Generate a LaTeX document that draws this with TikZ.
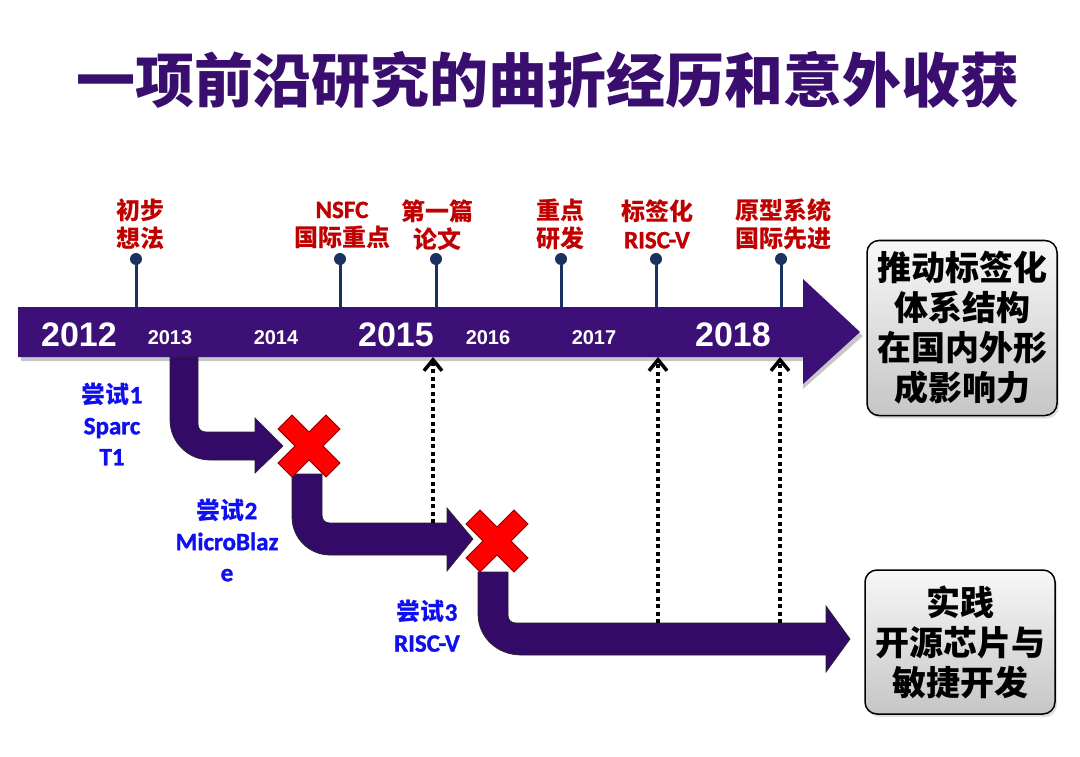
\documentclass[tikz,border=0pt]{standalone}
\usepackage{fontspec}
\newfontfamily\cjk{Noto Sans CJK SC}
\newfontfamily\lat{Carlito}[BoldFont={Carlito Bold}, BoldFeatures={FakeBold=1.3}]
\newfontfamily\arl{Liberation Sans}
\usetikzlibrary{arrows.meta,shadows}
\definecolor{tpurple}{RGB}{58,14,110}
\definecolor{barpurple}{RGB}{60,16,118}
\definecolor{arrpurple}{RGB}{52,10,104}
\definecolor{pinblue}{RGB}{25,50,95}
\definecolor{lblred}{RGB}{192,0,0}
\definecolor{lblblue}{RGB}{15,15,240}
\definecolor{xred}{RGB}{255,0,0}
\definecolor{xedge}{RGB}{140,0,0}
\begin{document}
\begin{tikzpicture}[x=1pt,y=-1pt,
  redlbl/.style={text=lblred, font=\cjk\bfseries\fontsize{24}{28}\selectfont, align=center, inner sep=0pt},
  bluelbl/.style={text=lblblue, font=\cjk\bfseries\fontsize{24}{31}\selectfont, align=center, inner sep=0pt},
  bigyear/.style={text=white, font=\arl\bfseries\fontsize{34}{34}\selectfont, inner sep=0pt},
  smallyear/.style={text=white, font=\arl\bfseries\fontsize{20}{20}\selectfont, inner sep=0pt},
  goalbox/.style={draw=black, line width=1.5pt, rounded corners=12pt, top color=gray!6, bottom color=gray!45,
    align=center, font=\cjk\bfseries\fontsize{34}{40}\selectfont, minimum width=190pt, inner sep=0pt,
    drop shadow={opacity=0.25, shadow xshift=2pt, shadow yshift=-3pt}},
  pinline/.style={draw=pinblue, line width=3pt},
  pindot/.style={circle, fill=pinblue, minimum size=12pt, inner sep=0pt},
  bentarrow/.style={fill=arrpurple, draw=black!85, line width=0.7pt, line join=miter},
  crossmark/.style={fill=xred, draw=xedge, line width=0.8pt, line join=miter},
  uparrow/.style={draw=black, line width=4pt, dash pattern=on 4pt off 3.5pt,
    -{Straight Barb[length=11pt,width=18pt,line width=3.5pt]}},
  titletext/.style={text=tpurple, font=\cjk\bfseries\fontsize{59}{59}\selectfont, inner sep=0pt}
]
\useasboundingbox (0,0) rectangle (1080,757);
\fill[white] (0,0) rectangle (1080,757);

% title
\node[titletext] (title) at (548,80) {一项前沿研究的曲折经历和意外收获};

% main timeline arrow
\fill[black, opacity=0.22] (21,311) -- (803,311) -- (803,284) -- (863,336) -- (803,389) -- (803,361) -- (21,361) -- cycle;
\fill[barpurple] (18,307) -- (803,307) -- (803,279) -- (860,332) -- (803,384) -- (803,357) -- (18,357) -- cycle;

% years
\node[bigyear] (y2012) at (79,335) {2012};
\node[smallyear] (y2013) at (170,338) {2013};
\node[smallyear] (y2014) at (276,338) {2014};
\node[bigyear] (y2015) at (396,335) {2015};
\node[smallyear] (y2016) at (488,338) {2016};
\node[smallyear] (y2017) at (594,338) {2017};
\node[bigyear] (y2018) at (733,335) {2018};

% pins
\foreach \n/\px in {1/136, 2/340, 3/436, 4/561, 5/656, 6/781}{
  \coordinate (pb\n) at (\px,307);
  \node[pindot] (pd\n) at (\px,259) {};
  \draw[pinline] (pb\n) -- (pd\n.center);
}

% red milestone labels
\node[redlbl] (m1) at (140,224) {初步\\想法};
\node[redlbl] (m2) at (342,225) {{\lat\fontsize{25}{28}\selectfont NSFC}\\国际重点};
\node[redlbl] (m3) at (437,225) {第一篇\\论文};
\node[redlbl] (m4) at (560,224) {重点\\研发};
\node[redlbl] (m5) at (657,224) {标签化\\{\lat\fontsize{25}{28}\selectfont RISC-V}};
\node[redlbl] (m6) at (783,224) {原型系统\\国际先进};

% bent arrows
\draw[bentarrow] (170,357) -- (170,420) .. controls (170,442) and (188,460) .. (210,460) -- (255,460) -- (255,473) -- (283,446) -- (255,418) -- (255,432) -- (206,432) .. controls (201,432) and (198,429) .. (198,424) -- (198,357) -- cycle;
\draw[bentarrow] (292,474) -- (292,517) .. controls (292,538) and (309,555) .. (330,555) -- (447,555) -- (447,571) -- (473,539) -- (447,508) -- (447,523) -- (330,523) .. controls (325,523) and (322,520) .. (322,515) -- (322,474) -- cycle;
\draw[bentarrow] (478,572) -- (478,614) .. controls (478,637) and (497,655) .. (521,655) -- (826,655) -- (826,672) -- (850,639) -- (826,606) -- (826,623) -- (516,623) .. controls (511,623) and (508,620) .. (508,615) -- (508,572) -- cycle;

% crosses
\foreach \cx/\cy in {309/446, 497/541}{
  \draw[crossmark, shift={(\cx,\cy)}] (0,-14) -- (17,-31) -- (31,-17) -- (14,0) -- (31,17) -- (17,31) -- (0,14) -- (-17,31) -- (-31,17) -- (-14,0) -- (-31,-17) -- (-17,-31) -- cycle;
}

% dotted up arrows
\coordinate (d1s) at (433,523);
\coordinate (d1e) at (433,357);
\coordinate (d2s) at (658,623);
\coordinate (d2e) at (658,357);
\coordinate (d3s) at (780,623);
\coordinate (d3e) at (780,357);
\draw[uparrow] (d1s) -- (d1e);
\draw[uparrow] (d2s) -- (d2e);
\draw[uparrow] (d3s) -- (d3e);

% attempt labels
\node[bluelbl] (a1) at (112,424) {尝试{\lat\fontsize{25}{31}\selectfont 1}\\{\lat\fontsize{25}{31}\selectfont Sparc}\\{\lat\fontsize{25}{31}\selectfont T1}};
\node[bluelbl] (a2) at (227,540) {尝试{\lat\fontsize{25}{31}\selectfont 2}\\{\lat\fontsize{25}{31}\selectfont MicroBlaz}\\{\lat\fontsize{25}{31}\selectfont e}};
\node[bluelbl] (a3) at (427,626) {尝试{\lat\fontsize{25}{31}\selectfont 3}\\{\lat\fontsize{25}{31}\selectfont RISC-V}};

% goal boxes
\node[goalbox, minimum height=175pt] (g1) at (962,328) {推动标签化\\体系结构\\在国内外形\\成影响力};
\node[goalbox, minimum height=144pt] (g2) at (960,642) {实践\\开源芯片与\\敏捷开发};
\end{tikzpicture}
\end{document}
